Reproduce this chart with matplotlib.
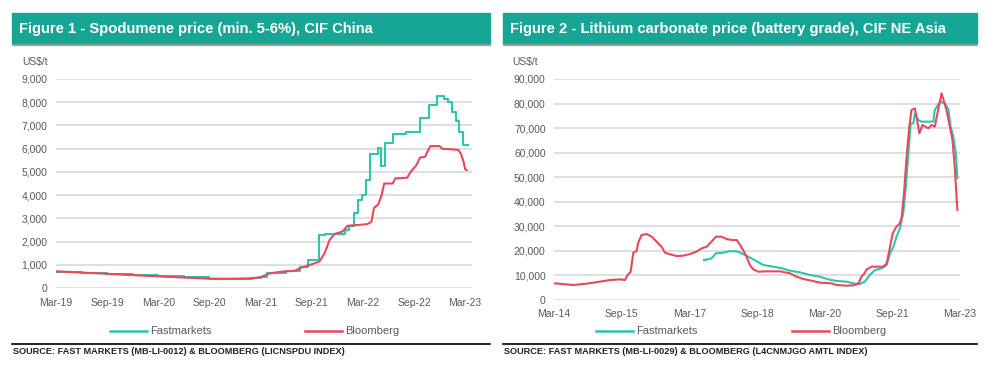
import numpy as np
import matplotlib
matplotlib.use("Agg")
import matplotlib.pyplot as plt
from matplotlib.patches import Rectangle
from matplotlib.lines import Line2D

plt.rcParams['font.family'] = ['Liberation Sans', 'DejaVu Sans']

# ---- Figure 1: spodumene, months since Mar-19 ----
fm1_m = [0, 3, 6, 9, 12, 15, 18, 21, 23, 24, 24.7, 27, 28.6, 29.6, 30.9, 31.6, 33.9, 34.4, 34.9,
         35.4, 35.9, 36.4, 36.8, 37.8, 38.1, 38.6, 39.5, 41.0, 42.7, 43.7, 44.7, 45.5, 46.0,
         46.4, 46.9, 47.3, 47.8, 48.3]
fm1_v = [710, 660, 618, 560, 503, 470, 403, 403, 445, 474, 660, 720, 920, 1200, 2280, 2330, 2500,
         2650, 3250, 3780, 4000, 4650, 5770, 6020, 5250, 6260, 6630, 6730, 7330, 7880, 8270,
         8130, 8030, 7600, 7210, 6730, 6160, 6160]
bb1_m = [0, 6, 12, 18, 21, 23, 24, 25, 26.3, 28.0, 28.6, 30.3, 30.9, 31.5, 32.1, 32.7, 33.6, 34.2,
         35, 36.5, 37, 37.3, 37.8, 38.2, 38.5, 39.5, 39.8, 41.2, 41.6, 42.3, 42.7, 43.3, 43.6,
         43.9, 45, 45.3, 47.2, 47.5, 47.8, 48.0, 48.2]
bb1_v = [720, 610, 500, 400, 400, 420, 470, 620, 700, 740, 850, 1060, 1140, 1490, 2070, 2330, 2430,
         2680, 2700, 2750, 2850, 3450, 3600, 4000, 4500, 4500, 4720, 4750, 5000, 5300, 5620,
         5650, 5900, 6110, 6110, 6000, 5950, 5780, 5450, 5110, 5080]
ticks1 = ['Mar-19', 'Sep-19', 'Mar-20', 'Sep-20', 'Mar-21', 'Sep-21', 'Mar-22', 'Sep-22', 'Mar-23']

# ---- Figure 2: lithium carbonate, months since Mar-14 ----
bb2_m = [0, 3.4, 5.1, 8.7, 12.2, 14.9, 17.6, 18.9, 19.6, 20.4, 21.1, 22.0, 22.4, 23.3, 24.6, 26.0,
         27.3, 28.6, 29.5, 30.9, 32.6, 34.4, 36.2, 37.9, 39.3, 40.6, 41.9, 43.1, 44.6, 45.9, 47.3,
         48.6, 49.5, 50.4, 51.2, 52.1, 53.0, 54.3, 56.6, 60.1, 62.8, 64.5, 66.3, 68.5, 70.7, 73.8,
         75.2, 77.8, 79.6, 80.9, 81.8, 82.7, 83.2, 84.5, 87.6, 88.5, 89.4, 90.1, 91.1, 92.0, 92.5,
         93.1, 93.8, 94.5, 95.1, 96.0, 96.5, 97.2, 98.0, 99.6, 100.4, 101.3, 102.0, 103.1, 103.5,
         104.4, 105.3, 106.0, 106.6, 107.3]
bb2_v = [6790, 6380, 6100, 6650, 7470, 8145, 8400, 8145, 10180, 11540, 19275, 19950, 23350, 26470,
         26880, 25790, 23750, 21720, 19275, 18600, 17920, 18050, 18730, 19680, 21040, 21720, 23750,
         25790, 25790, 24840, 24430, 24430, 22400, 20090, 17650, 14250, 12490, 11540, 11670, 11670,
         10860, 9500, 8550, 7870, 7060, 6790, 6110, 5840, 5970, 6520, 9500, 11130, 12490, 13575,
         13575, 14930, 21720, 27150, 29870, 31220, 33940, 43440, 58370, 70590, 77380, 78060, 74000,
         67870, 71270, 69910, 71270, 70590, 76020, 84165, 82130, 77380, 70590, 65160, 54300, 36650]
fm2_m = [39.9, 41.0, 41.9, 43.1, 45.0, 46.8, 49.0, 50.8, 53.0, 55.7, 58.3, 60.6, 62.8, 65.4, 68.1,
         70.7, 72.9, 75.2, 77.8, 79.6, 81.4, 82.7, 84.0, 85.4, 87.2, 88.5, 89.4, 90.3, 91.1, 92.0,
         92.9, 93.6, 94.2, 94.9, 95.6, 96.0, 96.9, 97.8, 100.9, 101.3, 102.7, 104.0, 104.9, 105.5,
         106.2, 106.9, 107.3]
fm2_v = [16290, 16560, 16970, 19000, 19275, 19950, 19680, 18330, 16560, 14250, 13575, 12900, 11950,
         11270, 10180, 9500, 8420, 7740, 7470, 6790, 6520, 7470, 10180, 12220, 12900, 14250, 19000,
         21720, 25790, 29190, 35300, 46150, 58370, 71950, 71950, 76020, 73300, 72630, 72630, 77380,
         80770, 80090, 77650, 70590, 66520, 59730, 49550]
ticks2 = ['Mar-14', 'Sep-15', 'Mar-17', 'Sep-18', 'Mar-20', 'Sep-21', 'Mar-23']

TEAL = '#2CC5AE'
RED = '#E8495A'
BAR = '#17A596'
GREY = '#595959'

W, H = 1000, 368
fig = plt.figure(figsize=(W / 100, H / 100), dpi=100)


def px(x0, y0, x1, y1):
    # pixel box (top-left origin) -> figure fraction rect
    return [x0 / W, 1 - y1 / H, (x1 - x0) / W, (y1 - y0) / H]


def panel(x0, x1, title, source, leg_x):
    fig.patches.append(Rectangle((x0 / W, 1 - 45 / H), (x1 - x0) / W, 2 / H,
                                 transform=fig.transFigure, color='#7a7a7a', alpha=0.6))
    fig.patches.append(Rectangle((x0 / W, 1 - 43 / H), (x1 - x0) / W, 30 / H,
                                 transform=fig.transFigure, color=BAR))
    fig.text((x0 + 7) / W, 1 - 28.5 / H, title, color='white', fontsize=10.6,
             fontweight='bold', va='center')
    fig.lines.append(Line2D([x0 / W, x1 / W], [1 - 344 / H] * 2, transform=fig.transFigure,
                            color='black', lw=1.2))
    fig.text((x0 + 1) / W, 1 - 352 / H, source, color='#222222', fontsize=6.6,
             fontweight='bold', va='center')
    for (lx, lab, col) in zip(leg_x, ['Fastmarkets', 'Bloomberg'], [TEAL, RED]):
        fig.lines.append(Line2D([lx / W, (lx + 37) / W], [1 - 331 / H] * 2,
                                transform=fig.transFigure, color=col, lw=1.8))
        fig.text((lx + 40) / W, 1 - 331 / H, lab, color=GREY, fontsize=8, va='center')


def style(ax, ymax, step, ticks, spacing, xmax, xpad):
    ax.set_ylim(0, ymax)
    ax.set_xlim(0, xmax)
    ax.set_yticks(np.arange(0, ymax + 1, step))
    ax.set_yticklabels([f'{int(v):,}' for v in np.arange(0, ymax + 1, step)])
    ax.set_xticks(np.arange(len(ticks)) * spacing)
    ax.set_xticklabels(ticks)
    ax.grid(axis='y', color='#D9D9D9', lw=1.2)
    ax.set_axisbelow(True)
    for s in ax.spines.values():
        s.set_visible(False)
    ax.tick_params(length=0, labelsize=7.5, labelcolor=GREY, pad=6)
    ax.tick_params(axis='x', pad=xpad)
    ax.patch.set_alpha(0)


# left panel
panel(12, 490, 'Figure 1 - Spodumene price (min. 5-6%), CIF China',
      'SOURCE: FAST MARKETS (MB-LI-0012) & BLOOMBERG (LICNSPDU INDEX)', [110, 305])
ax1 = fig.add_axes(px(56, 79, 472, 288))
ax1.plot(fm1_m, fm1_v, color=TEAL, lw=1.5, drawstyle='steps-post')
ax1.plot(bb1_m, bb1_v, color=RED, lw=1.5)
style(ax1, 9000, 1000, ticks1, 6, 48.8, 7)
fig.text(22 / W, 1 - 62 / H, 'US$/t', color=GREY, fontsize=7.5, va='center')

# right panel
panel(503, 977, 'Figure 2 - Lithium carbonate price (battery grade), CIF NE Asia',
      'SOURCE: FAST MARKETS (MB-LI-0029) & BLOOMBERG (L4CNMJGO AMTL INDEX)', [596, 792])
ax2 = fig.add_axes(px(554, 79, 960, 300))
ax2.plot(fm2_m, fm2_v, color=TEAL, lw=1.5)
ax2.plot(bb2_m, bb2_v, color=RED, lw=1.5)
style(ax2, 90000, 10000, ticks2, 18, 108, 6.5)
fig.text(512 / W, 1 - 62 / H, 'US$/t', color=GREY, fontsize=7.5, va='center')

fig.savefig('out.png', dpi=100, facecolor='white')
